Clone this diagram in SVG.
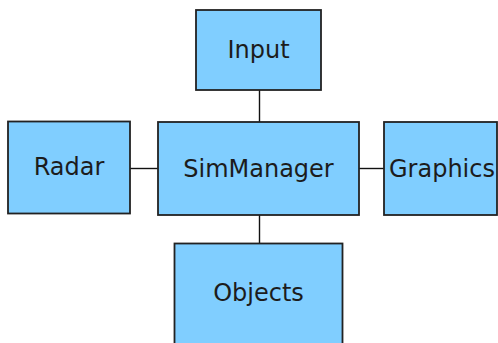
<svg xmlns="http://www.w3.org/2000/svg" width="498" height="343" viewBox="0 0 498 343">
<style>
.box{fill:#80ceff;stroke:#222;stroke-width:1.8}
.lbl{font-family:"DejaVu Sans",sans-serif;font-size:24px;fill:#1c1c1c;text-anchor:middle}
.con{stroke:#111;stroke-width:1.4;fill:none}
</style>
<rect width="498" height="343" fill="#fff"/>
<g id="connectors">
<line class="con" x1="259.5" y1="90" x2="259.5" y2="122"/>
<line class="con" x1="130" y1="168.5" x2="158" y2="168.5"/>
<line class="con" x1="359" y1="168.5" x2="384" y2="168.5"/>
<line class="con" x1="259.5" y1="215" x2="259.5" y2="243"/>
</g>
<g id="Input"><rect class="box" x="196" y="10" width="125" height="80"/><text class="lbl" x="258.5" y="58">Input</text></g>
<g id="Radar"><rect class="box" x="8" y="121.5" width="122" height="92"/><text class="lbl" x="69" y="175">Radar</text></g>
<g id="SimManager"><rect class="box" x="158" y="122" width="201" height="93"/><text class="lbl" x="258.5" y="176.5">SimManager</text></g>
<g id="Graphics"><rect class="box" x="384" y="122" width="113" height="93"/><text class="lbl" x="442" y="176.5">Graphics</text></g>
<g id="Objects"><rect class="box" x="174.5" y="243.5" width="168" height="110"/><text class="lbl" x="258.5" y="301">Objects</text></g>
</svg>
